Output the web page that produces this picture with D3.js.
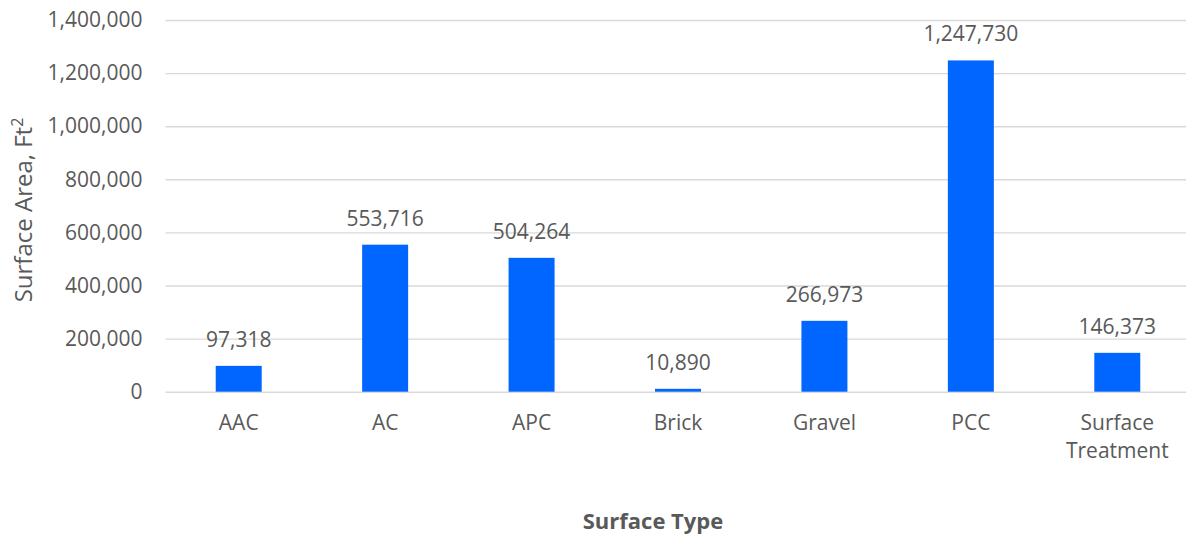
<!DOCTYPE html>
<html>
<head>
<meta charset="utf-8">
<script src="https://cdn.jsdelivr.net/npm/d3@7"></script>
<style>
  html, body { margin: 0; padding: 0; background: #fff; }
  svg { display: block; font-family: "Open Sans", sans-serif; }
</style>
</head>
<body>
<svg id="chart" width="1186" height="534"></svg>
<script>
// Surface area by pavement surface type
const categories = ["AAC", "AC", "APC", "Brick", "Gravel", "PCC", "Surface Treatment"];
const areas = [97318, 553716, 504264, 10890, 266973, 1247730, 146373];
const yTicks = [0, 200000, 400000, 600000, 800000, 1000000, 1200000, 1400000];

const textColor = "#595959";
const barColor = "#0066ff";

const svg = d3.select("#chart");
const plot = { left: 165.5, right: 1190.5, top: 20, bottom: 391.7 };

const x = d3.scaleBand()
  .domain(categories)
  .range([plot.left, plot.right])
  .paddingInner(0.686)
  .paddingOuter(0.343);

const y = d3.scaleLinear()
  .domain([0, 1400000])
  .range([plot.bottom, plot.top]);

const fmt = d3.format(",");

// Horizontal gridlines + tick labels
const yAxis = d3.axisLeft(y)
  .tickValues(yTicks)
  .tickFormat(fmt)
  .tickSize(-(plot.right - plot.left))
  .tickPadding(23);

const gy = svg.append("g")
  .attr("transform", `translate(${plot.left},0)`)
  .call(yAxis);
gy.select(".domain").remove();
gy.selectAll(".tick line")
  .attr("stroke", "#d9d9d9")
  .attr("stroke-width", 1.4);
gy.selectAll(".tick text")
  .attr("fill", textColor)
  .attr("font-size", 21)
  .attr("font-family", "'Open Sans', sans-serif");

// Bars
svg.append("g")
  .selectAll("rect")
  .data(categories.map((c, i) => ({ c, v: areas[i] })))
  .join("rect")
  .attr("x", d => x(d.c))
  .attr("width", x.bandwidth())
  .attr("y", d => y(d.v))
  .attr("height", d => y(0) - y(d.v))
  .attr("fill", barColor);

// Value labels above bars
svg.append("g")
  .selectAll("text")
  .data(categories.map((c, i) => ({ c, v: areas[i] })))
  .join("text")
  .attr("x", d => x(d.c) + x.bandwidth() / 2)
  .attr("y", d => y(d.v) - 19)
  .attr("text-anchor", "middle")
  .attr("fill", textColor)
  .attr("font-size", 21)
  .text(d => fmt(d.v));

// Category labels (wrapped onto two lines where needed)
const xAxis = d3.axisBottom(x).tickSize(0).tickPadding(0);
const gx = svg.append("g")
  .attr("transform", `translate(0,${plot.bottom})`)
  .call(xAxis);
gx.select(".domain").remove();
gx.selectAll(".tick text").each(function (d) {
  const t = d3.select(this);
  t.text(null)
    .attr("y", 0)
    .attr("dy", null)
    .attr("fill", textColor)
    .attr("font-size", 21)
    .attr("font-family", "'Open Sans', sans-serif");
  const words = d.split(" ");
  words.forEach((w, i) => {
    t.append("tspan")
      .attr("x", 0)
      .attr("y", 38 + i * 28)
      .text(w);
  });
});

// Axis titles
svg.append("text")
  .attr("x", 653)
  .attr("y", 529)
  .attr("text-anchor", "middle")
  .attr("fill", textColor)
  .attr("font-size", 22)
  .attr("font-weight", "bold")
  .text("Surface Type");

const yt = svg.append("text")
  .attr("transform", "translate(32,210) rotate(-90)")
  .attr("text-anchor", "middle")
  .attr("fill", textColor)
  .attr("font-size", 24);
yt.append("tspan").text("Surface Area, Ft");
yt.append("tspan").attr("font-size", 16).attr("dy", -9).text("2");
</script>
</body>
</html>
